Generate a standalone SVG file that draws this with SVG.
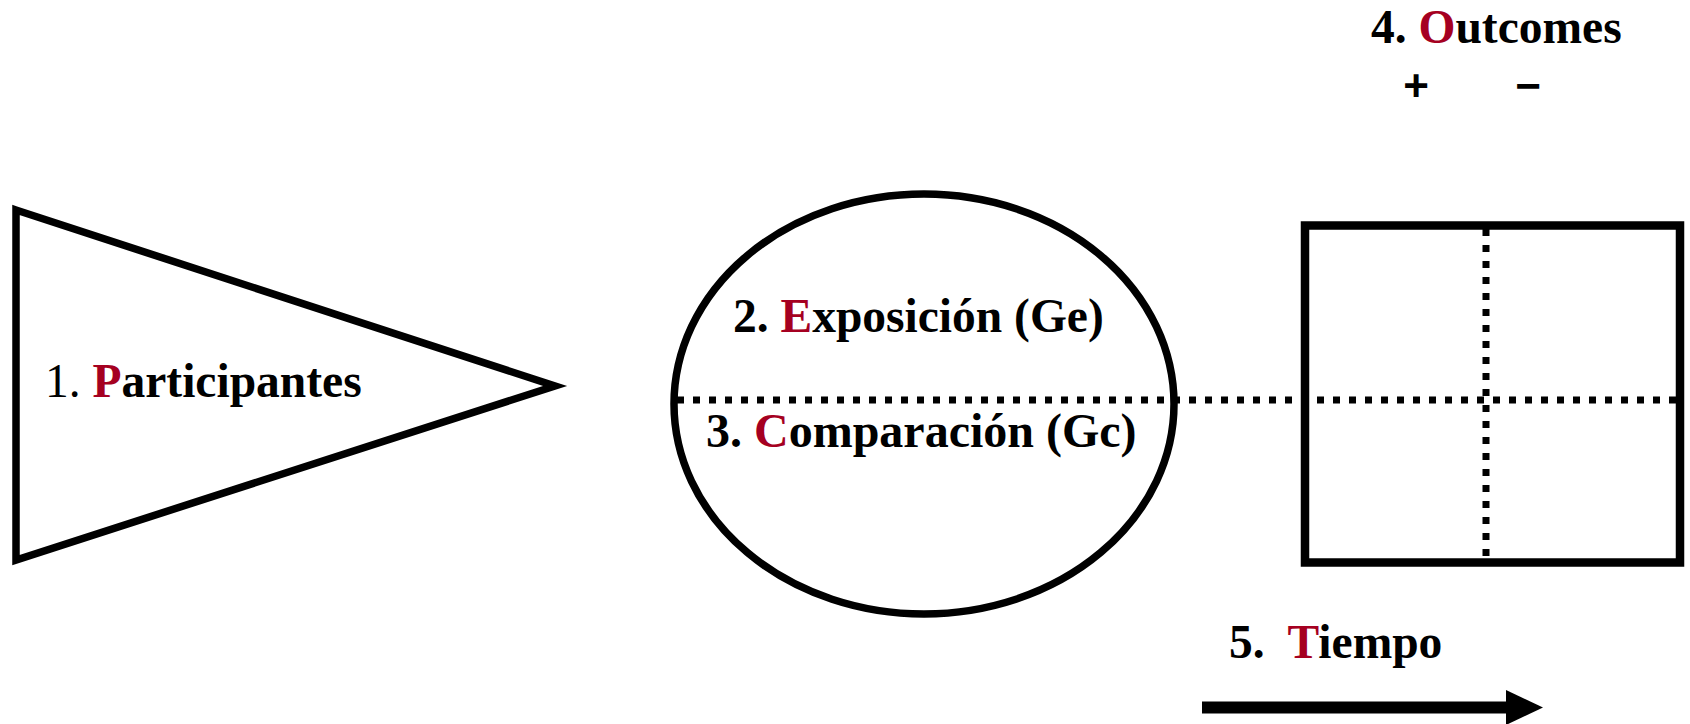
<svg xmlns="http://www.w3.org/2000/svg" width="1690" height="724" viewBox="0 0 1690 724">
<style>
text{font-family:"Liberation Serif","Times New Roman",serif;font-size:47.5px;font-weight:bold;fill:#000}
.r{fill:#A50021}
.n{font-weight:normal}
.shape{fill:none;stroke:#000;stroke-width:7.5}
.dot{fill:none;stroke:#000;stroke-width:7;stroke-dasharray:7 9}
.sign{font-family:"Liberation Sans",Arial,sans-serif;font-size:44px;font-weight:bold}
</style>
<rect width="1690" height="724" fill="#fff"/>
<g id="participantes">
<polygon class="shape" points="16,210 555,386 16,560"/>
<text x="45" y="397"><tspan class="n">1. </tspan><tspan class="r">P</tspan>articipantes</text>
</g>
<g id="grupos">
<ellipse class="shape" cx="924" cy="404" rx="250" ry="210"/>
<text x="733" y="332">2. <tspan class="r">E</tspan>xposición (Ge)</text>
<text x="706" y="447" style="font-size:48px">3. <tspan class="r">C</tspan>omparación (Gc)</text>
</g>
<g id="outcomes">
<rect class="shape" x="1305" y="225.5" width="375" height="337" style="stroke-width:8.5"/>
<text x="1371" y="43">4. <tspan class="r">O</tspan>utcomes</text>
<text class="sign" x="1416" y="101" text-anchor="middle">+</text>
<text class="sign" x="1528" y="101" text-anchor="middle">−</text>
</g>
<g id="tiempo">
<text x="1229" y="658" xml:space="preserve">5.  <tspan class="r">T</tspan>iempo</text>
<path d="M1202,707.5 H1510" stroke="#000" stroke-width="12" fill="none"/>
<polygon points="1506,690 1543,707.5 1506,725" fill="#000"/>
</g>
<g id="connectors">
<line class="dot" x1="677" y1="400" x2="1676" y2="400"/>
<line class="dot" x1="1486" y1="229" x2="1486" y2="559"/>
</g>
</svg>
